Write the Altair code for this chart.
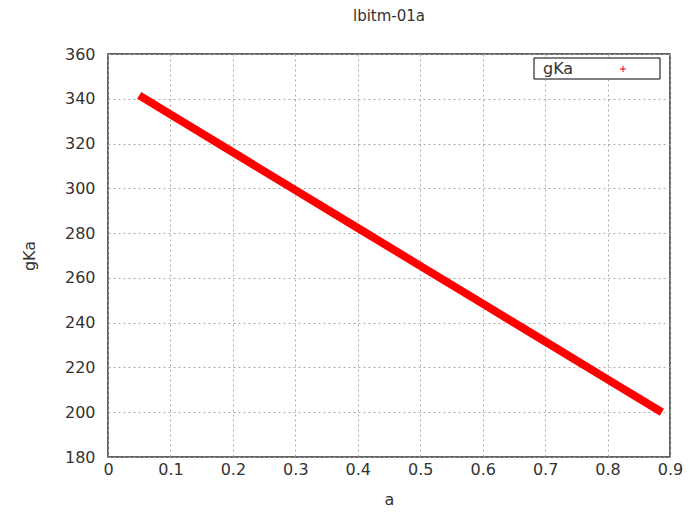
import altair as alt
import pandas as pd

a_vals = [0.05, 0.1, 0.2, 0.3, 0.4, 0.5, 0.6, 0.7, 0.8, 0.887]
gka_vals = [341.5, 333.0, 316.1, 299.2, 282.3, 265.4, 248.5, 231.6, 214.7, 200.0]
series = ["gKa"] * len(a_vals)

x_ticks = [0, 0.1, 0.2, 0.3, 0.4, 0.5, 0.6, 0.7, 0.8, 0.9]
y_ticks = [180, 200, 220, 240, 260, 280, 300, 320, 340, 360]
legend_label = ["gKa"]

df = pd.DataFrame({"a": a_vals, "gKa": gka_vals, "s": series})
leg = pd.DataFrame({"label": legend_label})

FONT = "DejaVu Sans"
TXT = "#333333"

line = alt.Chart(df).mark_line(strokeWidth=8, strokeCap="butt", color="#ff0000").encode(
    x=alt.X("a:Q", scale=alt.Scale(domain=[0, 0.9], nice=False),
            axis=alt.Axis(values=x_ticks, title="a", format="~g", labelPadding=4,
                          titlePadding=14, tickSize=0, labelFlush=False)),
    y=alt.Y("gKa:Q", scale=alt.Scale(domain=[180, 360], nice=False, zero=False),
            axis=alt.Axis(values=y_ticks, title="gKa", labelPadding=13,
                          titlePadding=27, tickSize=0, labelFlush=False)),
)

leg_box = alt.Chart(leg).mark_rect(fill="white", stroke="#000000", strokeWidth=1).encode(
    x=alt.value(426), x2=alt.value(552), y=alt.value(4), y2=alt.value(25)
)
leg_text = alt.Chart(leg).mark_text(align="left", baseline="middle", font=FONT,
                                    fontSize=16, color=TXT).encode(
    x=alt.value(435), y=alt.value(14.5), text="label:N"
)
leg_sym = alt.Chart(leg).mark_point(shape="M-1,0L1,0M0,-1L0,1", size=40, color="#ff0000",
                                    strokeWidth=1, filled=False, opacity=1).encode(
    x=alt.value(515), y=alt.value(15)
)

chart = alt.layer(line, leg_box, leg_text, leg_sym).properties(
    width=562, height=403,
    title=alt.TitleParams("lbitm-01a", fontSize=15, font=FONT, color=TXT,
                          fontWeight="normal", offset=22),
    padding={"left": 100, "top": 46, "right": 13, "bottom": 52},
    autosize=alt.AutoSizeParams(type="none"),
).configure_view(
    stroke="#333333", strokeWidth=1.5
).configure_axis(
    grid=True, gridColor="#aaaaaa", gridDash=[2, 3], gridWidth=1,
    domain=False, labelFont=FONT, titleFont=FONT, labelFontSize=16, titleFontSize=16,
    labelColor=TXT, titleColor=TXT, titleFontWeight="normal"
)

chart.save("out.html", embed_options={"renderer": "svg", "actions": False})
